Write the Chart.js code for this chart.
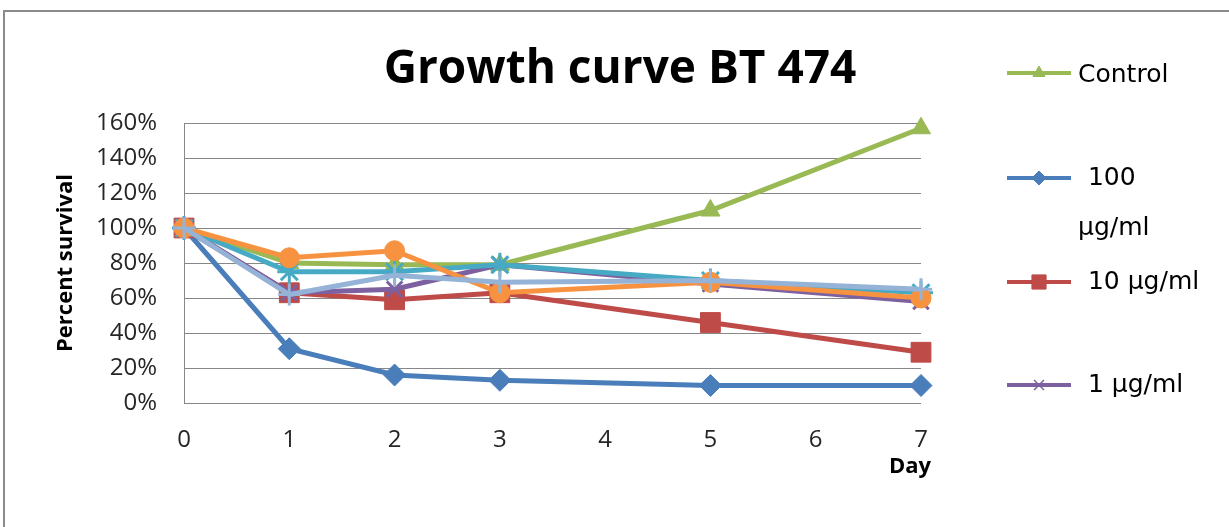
<!DOCTYPE html>
<html><head><meta charset="utf-8">
<script src="https://cdn.jsdelivr.net/npm/chart.js@4.4.1/dist/chart.umd.min.js"></script>
<style>html,body{margin:0;padding:0;background:#fff;}#wrap{width:1229px;height:527px;position:relative;}</style>
</head><body><div id="wrap"><canvas id="c" width="1229" height="527"></canvas></div>
<script>
// ---- data ----
const chartTitle = 'Growth curve BT 474';
const xTitle = 'Day';
const yTitle = 'Percent survival';
const days = [0, 1, 2, 3, 5, 7];
const seriesNames = ['Control', '100 µg/ml', '10 µg/ml', '1 µg/ml', 'Series 5', 'Series 6', 'Series 7'];
const control = [100, 80, 79, 79, 110, 157];
const dose100 = [100, 31, 16, 13, 10, 10];
const dose10 = [100, 63, 59, 63, 46, 29];
const dose1 = [100, 63, 65, 79, 68, 58];
const series5 = [100, 75, 75, 79, 70, 63];
const series6 = [100, 83, 87, 63, 69, 60];
const series7 = [100, 62, 73, 69, 70, 65];
const yTickValues = [0, 20, 40, 60, 80, 100, 120, 140, 160];
const xTickValues = [0, 1, 2, 3, 4, 5, 6, 7];
const legendLabels = [['Control'], [' 100', 'µg/ml'], [' 10 µg/ml'], [' 1 µg/ml']];

// ---- styles ----
const styles = [
  {color: '#98B954', point: 'triangle', r: 11, order: 7},
  {color: '#4A7EBB', point: 'rectRot', r: 11, order: 6},
  {color: '#BE4B48', point: 'rect', r: 14, order: 5},
  {color: '#7D60A0', point: 'crossRot', r: 11, order: 4},
  {color: '#46AAC5', point: 'star', r: 12, order: 3},
  {color: '#F69240', point: 'circle', r: 10, order: 2},
  {color: '#95B3D7', point: 'cross', r: 11, order: 1}
];
const allSeries = [control, dose100, dose10, dose1, series5, series6, series7];

const datasets = allSeries.map((vals, i) => {
  const s = styles[i];
  const open = s.point === 'cross' || s.point === 'crossRot' || s.point === 'star';
  return {
    label: seriesNames[i],
    data: vals.map((v, k) => ({x: days[k], y: v})),
    borderColor: s.color,
    backgroundColor: s.color,
    borderWidth: 5,
    pointStyle: s.point,
    pointRadius: s.r,
    pointHoverRadius: s.r,
    pointBackgroundColor: s.color,
    pointBorderColor: s.color,
    pointBorderWidth: open ? 3 : 1,
    tension: 0,
    clip: false,
    order: s.order
  };
});

const legendPos = [
  {lineY: 73, text: [{x: 1078, y: 82}]},
  {lineY: 178, text: [{x: 1080, y: 185}, {x: 1078, y: 235}]},
  {lineY: 282, text: [{x: 1080, y: 289}]},
  {lineY: 385, text: [{x: 1080, y: 392}]}
];

function drawMarker(ctx, style, r, x, y, bw) {
  ctx.save();
  ctx.fillStyle = style.color; ctx.strokeStyle = style.color; ctx.lineWidth = bw;
  if (Chart.helpers && Chart.helpers.drawPoint) {
    Chart.helpers.drawPoint(ctx, {pointStyle: style.point, radius: r, rotation: 0, borderWidth: bw}, x, y);
  } else {
    ctx.beginPath(); ctx.arc(x, y, r, 0, Math.PI * 2); ctx.fill();
  }
  ctx.restore();
}

const decor = {
  id: 'decor',
  beforeDraw(chart) {
    const ctx = chart.ctx;
    ctx.save();
    ctx.fillStyle = '#ffffff';
    ctx.fillRect(0, 0, chart.width, chart.height);
    ctx.strokeStyle = '#8a8a8a';
    ctx.lineWidth = 2;
    ctx.strokeRect(4, 11, 1240, 540);
    ctx.restore();
  },
  afterDraw(chart) {
    const ctx = chart.ctx;
    ctx.save();
    ctx.fillStyle = '#000';
    ctx.font = 'bold 46px "Open Sans"';
    ctx.textAlign = 'center';
    ctx.textBaseline = 'alphabetic';
    ctx.fillText(chartTitle, 620, 83);
    // x axis title, right-aligned just past the last tick
    ctx.font = 'bold 22px "Open Sans"';
    ctx.textAlign = 'right';
    ctx.textBaseline = 'middle';
    ctx.fillText(xTitle, chart.chartArea.right + 10, 467);
    ctx.textBaseline = 'alphabetic';
    ctx.font = '25px "DejaVu Sans"';
    ctx.textAlign = 'left';
    legendLabels.forEach((lines, i) => {
      const p = legendPos[i];
      const s = styles[i];
      ctx.save();
      ctx.strokeStyle = s.color; ctx.lineWidth = 4;
      ctx.beginPath(); ctx.moveTo(1007, p.lineY); ctx.lineTo(1071, p.lineY); ctx.stroke();
      ctx.restore();
      const open = s.point === 'cross' || s.point === 'crossRot' || s.point === 'star';
      drawMarker(ctx, s, s.point === 'rect' ? 10 : 7, 1039, p.lineY, open ? 1.5 : 1);
      ctx.fillStyle = '#000';
      lines.forEach((t, k) => ctx.fillText(t, p.text[k].x, p.text[k].y));
    });
    ctx.restore();
  }
};

new Chart(document.getElementById('c'), {
  type: 'line',
  data: {datasets},
  plugins: [decor],
  options: {
    responsive: false,
    devicePixelRatio: 1,
    animation: false,
    events: [],
    layout: {padding: {left: 0, right: 308, top: 123, bottom: 0}},
    plugins: {legend: {display: false}, title: {display: false}, tooltip: {enabled: false}},
    scales: {
      x: {
        type: 'linear', min: 0, max: 7,
        afterBuildTicks: (s) => { s.ticks = xTickValues.map(v => ({value: v})); },
        afterFit: (s) => { s.height = 124; },
        grid: {display: false, drawTicks: false},
        border: {display: false},
        ticks: {padding: 23, color: '#262626', font: {family: 'Open Sans', size: 24}, maxRotation: 0},
        title: {display: false}
      },
      y: {
        min: 0, max: 160,
        afterBuildTicks: (s) => { s.ticks = yTickValues.map(v => ({value: v})); },
        afterFit: (s) => { s.width = 184; },
        grid: {color: '#878787', lineWidth: 1, drawTicks: false},
        border: {display: true, color: '#878787', width: 1},
        ticks: {padding: 27, color: '#262626', font: {family: 'Open Sans', size: 24}, callback: (v) => v + '%'},
        title: {display: true, text: yTitle, color: '#000', font: {family: 'Open Sans', size: 22, weight: 'bold'}, padding: {top: 53, bottom: 0}}
      }
    }
  }
});
</script></body></html>
